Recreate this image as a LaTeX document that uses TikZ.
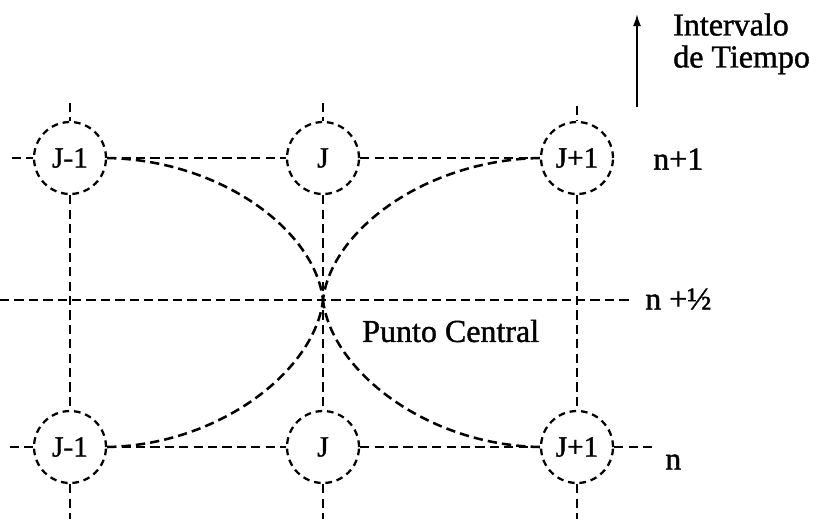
\documentclass[tikz,border=0pt]{standalone}
\usepackage{fontspec}
\setmainfont{Liberation Serif}
\newfontfamily\thk[FakeBold=1.2]{Liberation Serif}
\usetikzlibrary{arrows.meta}
\begin{document}
\begin{tikzpicture}[x=0.75pt,y=-0.75pt,
  dline/.style={line width=1.9pt,dash pattern=on 7pt off 3.8pt},
  cnode/.style={circle,draw,line width=1.7pt,dash pattern=on 5pt off 3.6pt,minimum size=54pt,inner sep=0pt,font=\thk\fontsize{22}{24}\selectfont},
  lbl/.style={font=\thk\fontsize{24}{26}\selectfont,inner sep=0pt}]
\useasboundingbox (0,0) rectangle (821,519);
% nodes
\node[cnode] (tl) at (70,158) {J-1};
\node[cnode] (tm) at (323,158) {J};
\node[cnode] (tr) at (577,158) {J+1};
\node[cnode] (bl) at (70,447) {J-1};
\node[cnode] (bm) at (323,447) {J};
\node[cnode] (br) at (577,447) {J+1};
\coordinate (c) at (323,300);
% stubs
\coordinate (tlu) at (70,103);
\coordinate (tmu) at (323,103);
\coordinate (tru) at (577,106);
\coordinate (bld) at (70,519);
\coordinate (bmd) at (323,519);
\coordinate (brd) at (577,519);
\coordinate (tll) at (12,158);
\coordinate (bll) at (10,447);
\coordinate (brr) at (652,447);
\coordinate (ml) at (0,300);
\coordinate (mr) at (633,300);
% grid lines
\draw[dline] (tlu) -- (tl.north);
\draw[dline] (tmu) -- (tm.north);
\draw[dline] (tru) -- (tr.north);
\draw[dline] (tl.south) -- (bl.north);
\draw[dline] (tm.south) -- (bm.north);
\draw[dline] (tr.south) -- (br.north);
\draw[dline] (bl.south) -- (bld);
\draw[dline] (bm.south) -- (bmd);
\draw[dline] (br.south) -- (brd);
\draw[dline] (tll) -- (tl.west);
\draw[dline] (tl.east) -- (tm.west);
\draw[dline] (tm.east) -- (tr.west);
\draw[dline] (bll) -- (bl.west);
\draw[dline] (bl.east) -- (bm.west);
\draw[dline] (bm.east) -- (br.west);
\draw[dline] (br.east) -- (brr);
\draw[dline] (ml) -- (mr);
% curves
\draw[dline] (tl.east) .. controls (220,160) and (315,230) .. (c);
\draw[dline] (tr.west) .. controls (426,160) and (331,230) .. (c);
\draw[dline] (bl.east) .. controls (220,445) and (315,370) .. (c);
\draw[dline] (br.west) .. controls (426,445) and (331,370) .. (c);
% labels
\node[lbl,anchor=west] (n1) at (653,159) {n+1};
\node[lbl,anchor=west] (nh) at (645,299) {n +½};
\node[lbl,anchor=west] (n0) at (665,462) {n};
\node[lbl,anchor=west] (pc) at (362,331) {Punto Central};
\node[lbl,anchor=north west,align=left] (it) at (673,13) {Intervalo\\[-2pt]de Tiempo};
\coordinate (ab) at (637,107);
\coordinate (at) at (637,14);
\draw[line width=1.4pt,-{Latex[length=9pt,width=6pt]}] (ab) -- (at);
\end{tikzpicture}
\end{document}
